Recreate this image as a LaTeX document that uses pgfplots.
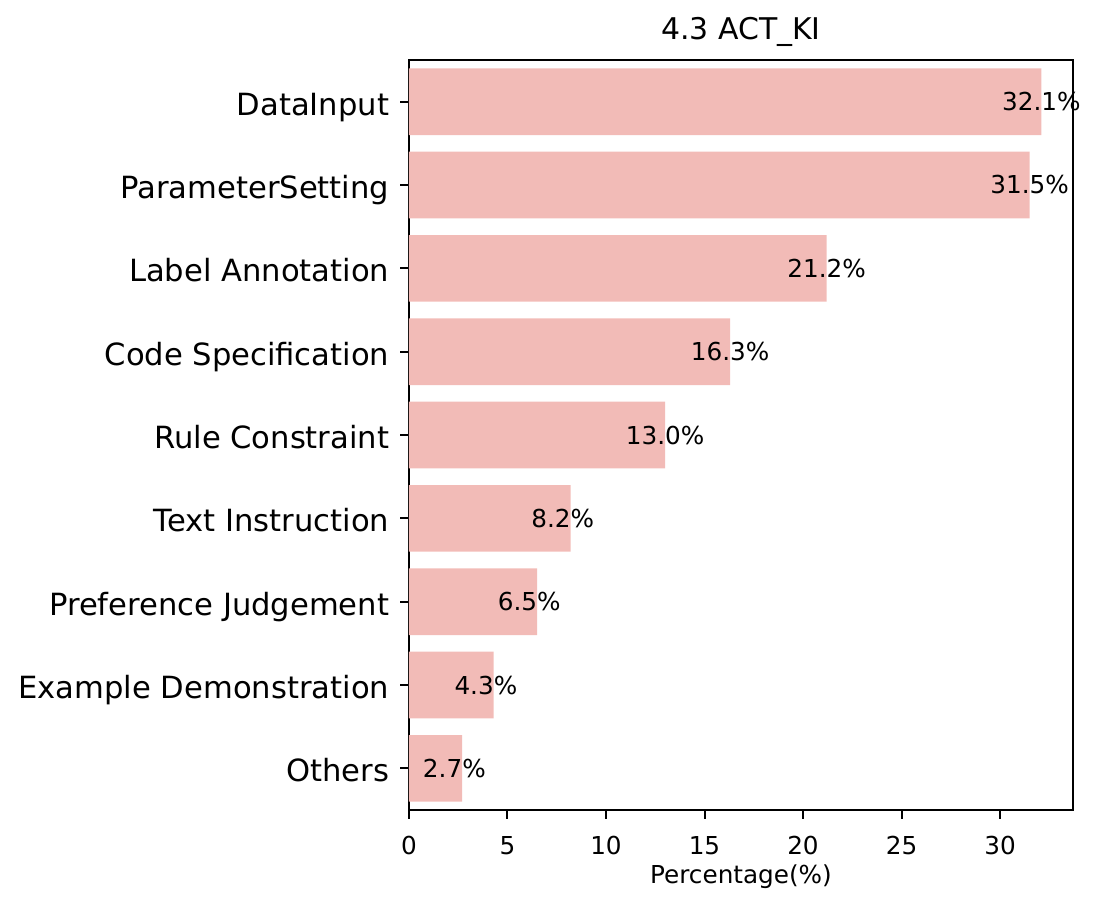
\documentclass[border=0pt]{standalone}
\usepackage{fontspec}
\setmainfont{DejaVu Sans}
\usepackage{pgfplots}
\usepackage{pgfplotstable}
\pgfplotsset{compat=1.18}
\definecolor{barfill}{RGB}{242,187,183}

% Share of each knowledge-input type (percent)
\pgfplotstableread{
idx value
0 32.1
1 31.5
2 21.2
3 16.3
4 13.0
5 8.2
6 6.5
7 4.3
8 2.7
}\actki

\begin{document}
\begin{tikzpicture}
\begin{axis}[
  at={(0pt,0pt)}, anchor=south west,
  scale only axis, width=664pt, height=750pt,
  xmin=0, xmax=33.705, ymin=-0.5, ymax=8.5, y dir=reverse,
  xbar, bar width=0.8, bar shift=0pt,
  clip=false,
  axis line style={line width=2pt, black},
  tick align=outside, xtick pos=bottom, ytick pos=left,
  major tick length=8.6pt,
  tick style={line width=2pt, black},
  xtick={0,5,10,15,20,25,30},
  ytick={0,1,2,3,4,5,6,7,8},
  yticklabels={DataInput, ParameterSetting, Label Annotation, Code Specification, Rule Constraint, Text Instruction, Preference Judgement, Example Demonstration, Others},
  /pgf/number format/assume math mode=true,
  xticklabel style={font=\fontsize{24.7}{30}\selectfont, anchor=base, yshift=-36pt},
  yticklabel style={font=\fontsize{30.6}{36}\selectfont, anchor=base east, inner sep=0pt, xshift=-11pt, yshift=-13.5pt},
  xlabel={Percentage(\%)},
  xlabel style={font=\fontsize{24.7}{30}\selectfont, at={(axis description cs:0.5,0)}, anchor=base, yshift=-73pt},
  title={4.3 ACT\_KI},
  title style={font=\fontsize{29.9}{36}\selectfont, at={(axis description cs:0.5,1)}, anchor=base, yshift=15pt},
  nodes near coords={\pgfplotspointmeta\%},
  point meta=explicit symbolic,
  nodes near coords style={anchor=west, inner sep=0pt, xshift=-39.4pt, font=\fontsize{24.7}{30}\selectfont, black},
]
\addplot[fill=barfill, draw=none] table[x=value, y=idx, meta=value] {\actki};
\end{axis}
\path (-409pt,-98pt) rectangle (691pt,810pt);
\end{tikzpicture}
\end{document}
